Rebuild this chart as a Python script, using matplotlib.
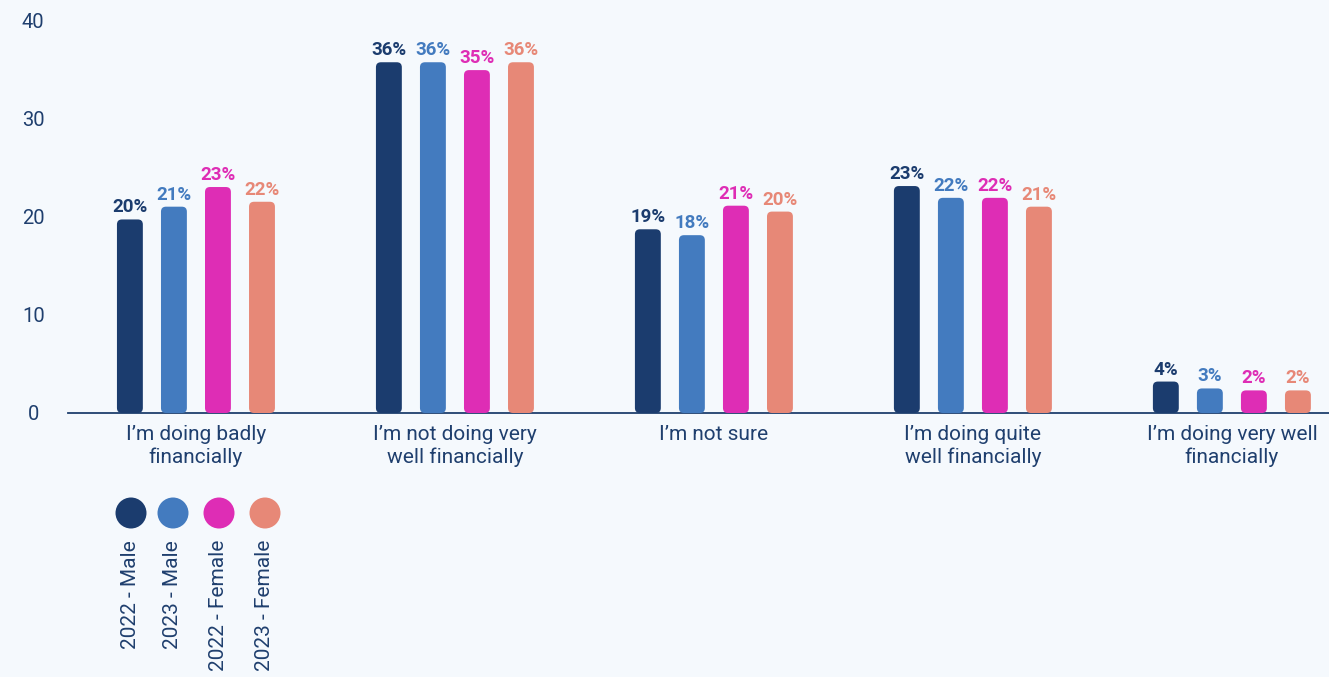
import matplotlib
matplotlib.use('Agg')
import matplotlib.pyplot as plt
from matplotlib.patches import FancyBboxPatch
import numpy as np

plt.rcParams['font.family'] = ['Roboto', 'DejaVu Sans']

# Data
categories = ['I’m doing badly\nfinancially', 'I’m not doing very\nwell financially',
              'I’m not sure', 'I’m doing quite\nwell financially',
              'I’m doing very well\nfinancially']
series_names = ['2022 - Male', '2023 - Male', '2022 - Female', '2023 - Female']
male_2022 = [19.7, 35.7, 18.7, 23.1, 3.2]
male_2023 = [21.0, 35.7, 18.1, 21.9, 2.5]
female_2022 = [23.0, 34.9, 21.1, 21.9, 2.3]
female_2023 = [21.5, 35.7, 20.5, 21.0, 2.3]
label_m22 = ['20%', '36%', '19%', '23%', '4%']
label_m23 = ['21%', '36%', '18%', '22%', '3%']
label_f22 = ['23%', '35%', '21%', '22%', '2%']
label_f23 = ['22%', '36%', '20%', '21%', '2%']
y_ticks = [0, 10, 20, 30, 40]

colors = ['#1b3c6e', '#437bbf', '#de2db5', '#e78877']
text_color = '#1f3f6e'
bg = '#f5f9fd'

W, H, DPI = 1329, 677, 100
fig = plt.figure(figsize=(W / DPI, H / DPI), dpi=DPI, facecolor=bg)

# axes placed in pixel terms
ax_left, ax_right, ax_top, ax_bottom = 68, 1329, 20, 413
ax = fig.add_axes([ax_left / W, 1 - ax_bottom / H, (ax_right - ax_left) / W, (ax_bottom - ax_top) / H])
ax.set_facecolor(bg)

x = np.arange(len(categories))
width = 0.1
step = 0.17
xlim = (-0.494, 4.375)
ax.set_xlim(*xlim)
ax.set_ylim(0, 40)

# pixel -> data scale, used for rounded corners
xpp = (xlim[1] - xlim[0]) / (ax_right - ax_left)
ypp = 40 / (ax_bottom - ax_top)
radius_px = 5

all_series = [male_2022, male_2023, female_2022, female_2023]
all_labels = [label_m22, label_m23, label_f22, label_f23]

for i, (vals, labs, col) in enumerate(zip(all_series, all_labels, colors)):
    bars = ax.bar(x + (i - 1.5) * step, vals, width, color=col)
    for rect, lab in zip(bars, labs):
        bx, by = rect.get_x(), rect.get_y()
        bw, bh = rect.get_width(), rect.get_height()
        rect.remove()
        patch = FancyBboxPatch((bx, by), bw, bh,
                               boxstyle='round,pad=0,rounding_size=%f' % (radius_px * xpp),
                               mutation_aspect=ypp / xpp,
                               facecolor=col, edgecolor='none', clip_on=False)
        ax.add_patch(patch)
        ax.annotate(lab, (bx + bw / 2, bh), xytext=(0, 7), textcoords='offset pixels',
                    ha='center', va='baseline', fontsize=13.5, fontweight='bold',
                    color=col, annotation_clip=False)

# axes styling
for s in ['top', 'right', 'left']:
    ax.spines[s].set_visible(False)
ax.spines['bottom'].set_color(text_color)
ax.spines['bottom'].set_linewidth(1.3)
ax.spines['bottom'].set_zorder(0)

ax.set_yticks(y_ticks)
ax.set_yticklabels([str(t) for t in y_ticks], fontsize=14.5, color=text_color, ha='center')
ax.tick_params(axis='y', length=0, pad=25)

ax.set_xticks(x)
ax.set_xticklabels(categories, fontsize=15, color=text_color, linespacing=1.2)
ax.tick_params(axis='x', length=0, pad=9)

# legend: circles with rotated labels under the first group
lax = fig.add_axes([0, 0, 1, 1])
lax.set_xlim(0, W)
lax.set_ylim(H, 0)
lax.axis('off')
legend_x = [131, 173, 219, 265]
for lx, name, col in zip(legend_x, series_names, colors):
    lax.scatter([lx], [513], s=(31 * 72 / DPI) ** 2, color=col, edgecolors='none')
    lax.text(lx, 540, name, rotation=90, ha='center', va='top', fontsize=15, color=text_color)

fig.savefig('out.png', dpi=DPI, facecolor=bg)
